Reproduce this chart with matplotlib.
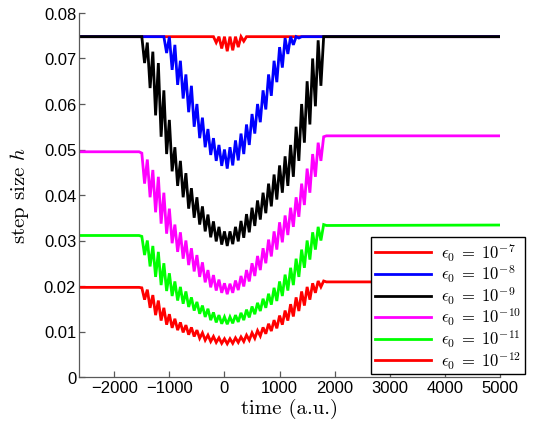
import matplotlib
matplotlib.use("Agg")
import matplotlib.pyplot as plt

plt.rcParams["mathtext.fontset"] = "cm"
plt.rcParams["font.family"] = ["Liberation Sans", "DejaVu Sans"]

# time samples: low points of each tooth and spike tops in between
t_lo = [-1550, -1450, -1350, -1250, -1150, -1050, -950, -850, -750, -650,
        -550, -450, -350, -250, -150, -50, 50, 150, 250, 350,
        450, 550, 650, 750, 850, 950, 1050, 1150, 1250, 1350,
        1450, 1550, 1650, 1750, 1850]
t_hi = [-1500, -1400, -1300, -1200, -1100, -1000, -900, -800, -700, -600,
        -500, -400, -300, -200, -100, 0, 100, 200, 300, 400,
        500, 600, 700, 800, 900, 1000, 1100, 1200, 1300, 1400,
        1500, 1600, 1700, 1800]
t_start, t_end = -2640, 5000

labels = [r"$\epsilon_0 \;=\; 10^{-7}$", r"$\epsilon_0 \;=\; 10^{-8}$",
          r"$\epsilon_0 \;=\; 10^{-9}$", r"$\epsilon_0 \;=\; 10^{-10}$",
          r"$\epsilon_0 \;=\; 10^{-11}$", r"$\epsilon_0 \;=\; 10^{-12}$"]
colors = ["#ff0000", "#0000ff", "#000000", "#ff00ff", "#00ff00", "#ff0000"]

# plateau levels (left, right)
plateau = [(0.0748, 0.0748), (0.0748, 0.0748), (0.0748, 0.0748),
           (0.0495, 0.0530), (0.0311, 0.0334), (0.0197, 0.0209)]

lo_e7 = [0.0748] * 14 + [0.0735, 0.0722, 0.0716, 0.0718, 0.0725, 0.0738] + [0.0748] * 15
hi_e7 = [0.0748] * 34

lo_e8 = [0.0748] * 5 + [0.0712, 0.0675, 0.0642, 0.0612, 0.0582, 0.0550, 0.0525, 0.0505,
                        0.0488, 0.0475, 0.0464, 0.0458, 0.0465, 0.0476, 0.0490, 0.0510,
                        0.0535, 0.0560, 0.0588, 0.0618, 0.0648, 0.0680, 0.0710, 0.0730,
                        0.0745] + [0.0748] * 5
hi_e8 = [0.0748] * 6 + [0.0730, 0.0695, 0.0665, 0.0640, 0.0600, 0.0570, 0.0545, 0.0525,
                        0.0510, 0.0500, 0.0505, 0.0520, 0.0535, 0.0555, 0.0578, 0.0600,
                        0.0630, 0.0665, 0.0695, 0.0725, 0.0745] + [0.0748] * 7

lo_e9 = [0.0748, 0.0690, 0.0635, 0.0575, 0.0528, 0.0490, 0.0452, 0.0420, 0.0395, 0.0370,
         0.0350, 0.0335, 0.0320, 0.0307, 0.0298, 0.0291, 0.0288, 0.0292, 0.0298, 0.0306,
         0.0318, 0.0332, 0.0346, 0.0360, 0.0375, 0.0390, 0.0405, 0.0420, 0.0440, 0.0475,
         0.0515, 0.0555, 0.0595, 0.0640, 0.0748]
hi_e9 = [0.0748, 0.0735, 0.0715, 0.0690, 0.0630, 0.0565, 0.0505, 0.0475, 0.0448, 0.0415,
         0.0395, 0.0375, 0.0357, 0.0342, 0.0330, 0.0320, 0.0320, 0.0330, 0.0343, 0.0358,
         0.0372, 0.0388, 0.0405, 0.0425, 0.0445, 0.0465, 0.0485, 0.0510, 0.0550, 0.0600,
         0.0650, 0.0700, 0.0740, 0.0748]

lo_e10 = [0.0495, 0.0425, 0.0395, 0.0362, 0.0337, 0.0315, 0.0294, 0.0275, 0.0260, 0.0246,
          0.0232, 0.0220, 0.0208, 0.0197, 0.0190, 0.0185, 0.0182, 0.0185, 0.0191, 0.0199,
          0.0210, 0.0222, 0.0235, 0.0250, 0.0265, 0.0280, 0.0296, 0.0312, 0.0330, 0.0352,
          0.0378, 0.0405, 0.0440, 0.0475, 0.0530]
hi_e10 = [0.0492, 0.0478, 0.0455, 0.0440, 0.0405, 0.0370, 0.0335, 0.0318, 0.0300, 0.0283,
          0.0268, 0.0252, 0.0235, 0.0224, 0.0214, 0.0206, 0.0205, 0.0212, 0.0222, 0.0235,
          0.0250, 0.0266, 0.0283, 0.0302, 0.0320, 0.0340, 0.0355, 0.0372, 0.0395, 0.0425,
          0.0458, 0.0490, 0.0515, 0.0528]

lo_e11 = [0.0311, 0.0268, 0.0243, 0.0220, 0.0202, 0.0189, 0.0178, 0.0168, 0.0161, 0.0154,
          0.0146, 0.0139, 0.0132, 0.0125, 0.0120, 0.0117, 0.0116, 0.0118, 0.0121, 0.0125,
          0.0131, 0.0138, 0.0145, 0.0152, 0.0159, 0.0167, 0.0178, 0.0190, 0.0202, 0.0220,
          0.0240, 0.0258, 0.0280, 0.0300, 0.0333]
hi_e11 = [0.0309, 0.0300, 0.0288, 0.0275, 0.0250, 0.0228, 0.0210, 0.0198, 0.0188, 0.0175,
          0.0165, 0.0157, 0.0150, 0.0142, 0.0136, 0.0132, 0.0132, 0.0136, 0.0141, 0.0148,
          0.0155, 0.0163, 0.0172, 0.0183, 0.0196, 0.0210, 0.0225, 0.0240, 0.0260, 0.0280,
          0.0300, 0.0318, 0.0330, 0.0335]

lo_e12 = [0.0197, 0.0170, 0.0152, 0.0136, 0.0124, 0.0115, 0.0108, 0.0103, 0.0098, 0.0093,
          0.0089, 0.0085, 0.0081, 0.0078, 0.0076, 0.0074, 0.0073, 0.0074, 0.0076, 0.0078,
          0.0081, 0.0085, 0.0090, 0.0095, 0.0101, 0.0107, 0.0115, 0.0124, 0.0133, 0.0145,
          0.0157, 0.0170, 0.0185, 0.0198, 0.0209]
hi_e12 = [0.0196, 0.0192, 0.0180, 0.0168, 0.0152, 0.0138, 0.0128, 0.0120, 0.0114, 0.0109,
          0.0103, 0.0097, 0.0092, 0.0089, 0.0086, 0.0084, 0.0084, 0.0086, 0.0088, 0.0092,
          0.0097, 0.0102, 0.0109, 0.0117, 0.0125, 0.0135, 0.0146, 0.0160, 0.0175, 0.0188,
          0.0198, 0.0206, 0.0211, 0.0211]

series = [(lo_e7, hi_e7), (lo_e8, hi_e8), (lo_e9, hi_e9),
          (lo_e10, hi_e10), (lo_e11, hi_e11), (lo_e12, hi_e12)]


def zigzag(lo, hi, left, right):
    t, h = [t_start], [left]
    for a, b, c, d in zip(t_lo, lo, t_hi, hi):
        t += [a, c]
        h += [b, d]
    t += [t_lo[-1], t_end]
    h += [lo[-1], right]
    return t, h


fig = plt.figure(figsize=(5.48, 4.35), dpi=100)
ax = fig.add_axes([79 / 548, 57 / 435, 421 / 548, 364 / 435])

for (lo, hi), (left, right), col, lab in zip(series, plateau, colors, labels):
    t, h = zigzag(lo, hi, left, right)
    ax.plot(t, h, color=col, lw=2.0, label=lab, solid_joinstyle="miter")

ax.set_xlim(t_start, t_end)
ax.set_ylim(0, 0.08)
ax.set_xticks([-2000, -1000, 0, 1000, 2000, 3000, 4000, 5000])
ax.set_yticks([0, 0.01, 0.02, 0.03, 0.04, 0.05, 0.06, 0.07, 0.08])
ax.set_yticklabels(["0", "0.01", "0.02", "0.03", "0.04", "0.05", "0.06", "0.07", "0.08"])

for s in ["top", "right"]:
    ax.spines[s].set_visible(False)
for s in ["left", "bottom"]:
    ax.spines[s].set_color("0.35")
    ax.spines[s].set_linewidth(0.9)
ax.tick_params(direction="in", length=4, width=0.9, color="0.35", labelsize=12,
               labelcolor="black", pad=2)

ax.set_xlabel("time (a.u.)", fontsize=15, family="cmr10", labelpad=2)
ax.set_ylabel(r"step size $h$", fontsize=15, family="cmr10", labelpad=9)

leg = ax.legend(loc="lower right", bbox_to_anchor=(525 / 548, 60 / 435),
                bbox_transform=fig.transFigure, fontsize=12, fancybox=False,
                edgecolor="black", framealpha=1, handlelength=3.4, handleheight=0.5,
                handletextpad=0.6, labelspacing=0.0, borderpad=0.2, borderaxespad=0)
leg.get_frame().set_linewidth(1.0)

fig.savefig("out.png", dpi=100)
